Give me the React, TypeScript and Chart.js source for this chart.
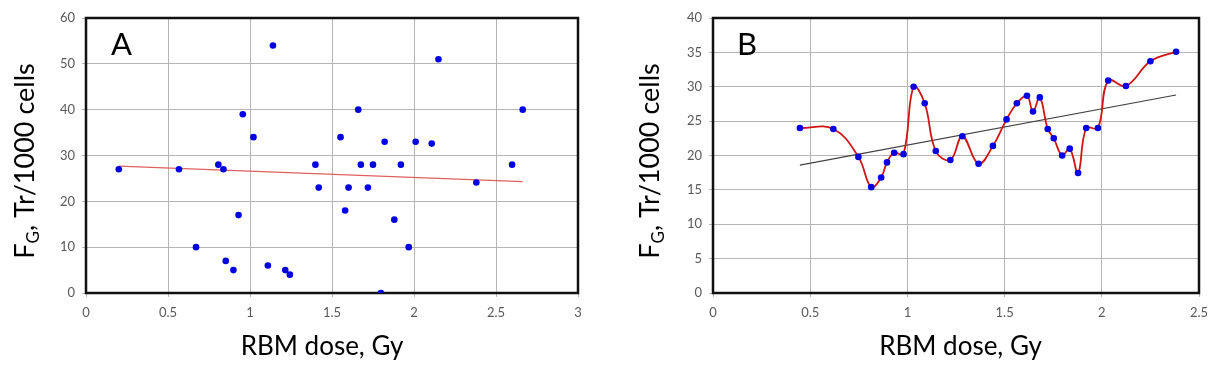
import React, { useEffect, useRef } from "react";
import { Chart, registerables } from "chart.js";

Chart.register(...registerables);

// ---------- Panel A data ----------
const doseA = [0.2, 0.567, 0.671, 0.807, 0.838, 0.852, 0.899, 0.93, 0.956, 1.021, 1.109, 1.14, 1.215, 1.243, 1.399, 1.419, 1.552, 1.58, 1.601, 1.66, 1.676, 1.719, 1.75, 1.798, 1.821, 1.88, 1.92, 1.968, 2.01, 2.108, 2.149, 2.38, 2.598, 2.663];
const fgA = [27, 27, 10, 28, 27, 7, 5, 17, 39, 34, 6, 54, 5, 4, 28, 23, 34, 18, 23, 40, 28, 23, 28, 0, 33, 16, 28, 10, 33, 32.6, 51, 24.1, 28, 40];
const trendDoseA = [0.2, 2.663];
const trendFgA = [27.7, 24.3];

// ---------- Panel B data ----------
const doseB = [0.447, 0.619, 0.748, 0.814, 0.865, 0.895, 0.932, 0.98, 1.032, 1.089, 1.146, 1.221, 1.283, 1.366, 1.44, 1.51, 1.563, 1.615, 1.646, 1.681, 1.722, 1.753, 1.796, 1.835, 1.878, 1.92, 1.98, 2.033, 2.124, 2.25, 2.382];
const fgB = [24, 23.85, 19.8, 15.4, 16.8, 19.0, 20.4, 20.2, 30.0, 27.6, 20.65, 19.35, 22.8, 18.8, 21.4, 25.25, 27.6, 28.7, 26.4, 28.45, 23.85, 22.5, 20.0, 21.0, 17.46, 24.0, 24.0, 30.9, 30.1, 33.7, 35.1];
const trendDoseB = [0.447, 2.382];
const trendFgB = [18.6, 28.8];

// ---------- Axes ----------
const xTicksA = [0, 0.5, 1, 1.5, 2, 2.5, 3];
const yTicksA = [0, 10, 20, 30, 40, 50, 60];
const xTicksB = [0, 0.5, 1, 1.5, 2, 2.5];
const yTicksB = [0, 5, 10, 15, 20, 25, 30, 35, 40];

const xTitle = "RBM dose, Gy";
const yTitleMain = "F";
const yTitleSub = "G";
const yTitleRest = ", Tr/1000 cells";
const panelLetters = ["A", "B"];

const FONT = "Lato";

const decoPlugin = {
  id: "deco",
  beforeDatasetsDraw(chart: any, _args: any, opts: any) {
    const { ctx, chartArea } = chart;
    ctx.save();
    ctx.strokeStyle = "#111111";
    ctx.lineWidth = 2.5;
    ctx.strokeRect(chartArea.left, chartArea.top, chartArea.right - chartArea.left, chartArea.bottom - chartArea.top);
    ctx.restore();
  },
  afterDraw(chart: any, _args: any, opts: any) {
    const { ctx } = chart;
    ctx.save();
    ctx.fillStyle = "#000000";
    ctx.textBaseline = "alphabetic";
    // panel letter
    ctx.font = `${opts.letterSize}px ${FONT}`;
    ctx.textAlign = "left";
    ctx.fillText(opts.letter, opts.letterX, opts.letterY);
    // x title
    ctx.font = `${opts.xTitleSize}px ${FONT}`;
    ctx.textAlign = "center";
    ctx.fillText(xTitle, opts.xTitleX, opts.xTitleY);
    // y title with subscript
    ctx.textAlign = "left";
    ctx.translate(opts.yTitleX, opts.yTitleY);
    ctx.rotate(-Math.PI / 2);
    const mainF = `${opts.yTitleSize}px ${FONT}`;
    const subF = `${Math.round(opts.yTitleSize * 0.62)}px ${FONT}`;
    ctx.font = mainF;
    const wF = ctx.measureText(yTitleMain).width;
    const wR = ctx.measureText(yTitleRest).width;
    ctx.font = subF;
    const wG = ctx.measureText(yTitleSub).width;
    let x = -(wF + wG + wR) / 2;
    ctx.font = mainF;
    ctx.fillText(yTitleMain, x, 0);
    x += wF;
    ctx.font = subF;
    ctx.fillText(yTitleSub, x, opts.yTitleSize * 0.2);
    x += wG;
    ctx.font = mainF;
    ctx.fillText(yTitleRest, x, 0);
    ctx.restore();
  },
};

function makeScales(xTicks: number[], yTicks: number[], yWidth: number) {
  const grid = { color: "#b5b5b5", lineWidth: 1, tickLength: 4, drawTicks: true };
  const tickStyle = { color: "#595959", font: { family: FONT, size: 13 } };
  return {
    x: {
      type: "linear",
      min: xTicks[0],
      max: xTicks[xTicks.length - 1],
      afterBuildTicks: (s: any) => { s.ticks = xTicks.map((v) => ({ value: v })); },
      afterFit: (s: any) => { s.height = 86; },
      grid,
      border: { display: false },
      ticks: { ...tickStyle, padding: 8, maxRotation: 0, autoSkip: false, callback: (v: any) => String(v) },
    },
    y: {
      type: "linear",
      min: yTicks[0],
      max: yTicks[yTicks.length - 1],
      afterBuildTicks: (s: any) => { s.ticks = yTicks.map((v) => ({ value: v })); },
      afterFit: (s: any) => { s.width = yWidth; },
      grid,
      border: { display: false },
      ticks: { ...tickStyle, padding: 7, autoSkip: false, callback: (v: any) => String(v) },
    },
  };
}

function PanelA() {
  const ref = useRef<HTMLCanvasElement>(null);
  useEffect(() => {
    const chart = new Chart(ref.current!, {
      type: "scatter",
      data: {
        datasets: [
          {
            data: doseA.map((d, i) => ({ x: d, y: fgA[i] })),
            backgroundColor: "#0000e0",
            borderColor: "#0000e0",
            pointRadius: 3.3,
            pointBorderWidth: 0,
            showLine: false,
          },
          {
            data: trendDoseA.map((d, i) => ({ x: d, y: trendFgA[i] })),
            borderColor: "#e06060",
            borderWidth: 1.2,
            pointRadius: 0,
            showLine: true,
          },
        ],
      },
      options: {
        responsive: false,
        animation: false,
        layout: { padding: { left: 0, top: 18, right: 22, bottom: 0 } },
        plugins: {
          legend: { display: false },
          tooltip: { enabled: false },
          deco: {
            letter: panelLetters[0], letterX: 111, letterY: 55, letterSize: 31,
            xTitleX: 322, xTitleY: 355, xTitleSize: 26,
            yTitleX: 34, yTitleY: 161, yTitleSize: 27,
          },
        } as any,
        scales: makeScales(xTicksA, yTicksA, 86) as any,
      },
      plugins: [decoPlugin],
    });
    return () => chart.destroy();
  }, []);
  return <canvas ref={ref} width={600} height={379} style={{ position: "absolute", left: 0, top: 0 }} />;
}

function PanelB() {
  const ref = useRef<HTMLCanvasElement>(null);
  useEffect(() => {
    const chart = new Chart(ref.current!, {
      type: "scatter",
      data: {
        datasets: [
          {
            data: doseB.map((d, i) => ({ x: d, y: fgB[i] })),
            backgroundColor: "#0000e0",
            borderColor: "#d01414",
            borderWidth: 1.8,
            pointBackgroundColor: "#0000e0",
            pointBorderColor: "#0000e0",
            pointRadius: 3.3,
            pointBorderWidth: 0,
            showLine: true,
            tension: 0.4,
          },
          {
            data: trendDoseB.map((d, i) => ({ x: d, y: trendFgB[i] })),
            borderColor: "#404040",
            borderWidth: 1.1,
            pointRadius: 0,
            showLine: true,
          },
        ],
      },
      options: {
        responsive: false,
        animation: false,
        layout: { padding: { left: 0, top: 18, right: 26, bottom: 0 } },
        plugins: {
          legend: { display: false },
          tooltip: { enabled: false },
          deco: {
            letter: panelLetters[1], letterX: 137, letterY: 55, letterSize: 31,
            xTitleX: 360.5, xTitleY: 355, xTitleSize: 26,
            yTitleX: 59, yTitleY: 161, yTitleSize: 27,
          },
        } as any,
        scales: makeScales(xTicksB, yTicksB, 113) as any,
      },
      plugins: [decoPlugin],
    });
    return () => chart.destroy();
  }, []);
  return <canvas ref={ref} width={625} height={379} style={{ position: "absolute", left: 600, top: 0 }} />;
}

export default function App() {
  return (
    <div style={{ position: "fixed", left: 0, top: 0, width: 1225, height: 379, background: "#ffffff", overflow: "hidden" }}>
      <PanelA />
      <PanelB />
    </div>
  );
}
